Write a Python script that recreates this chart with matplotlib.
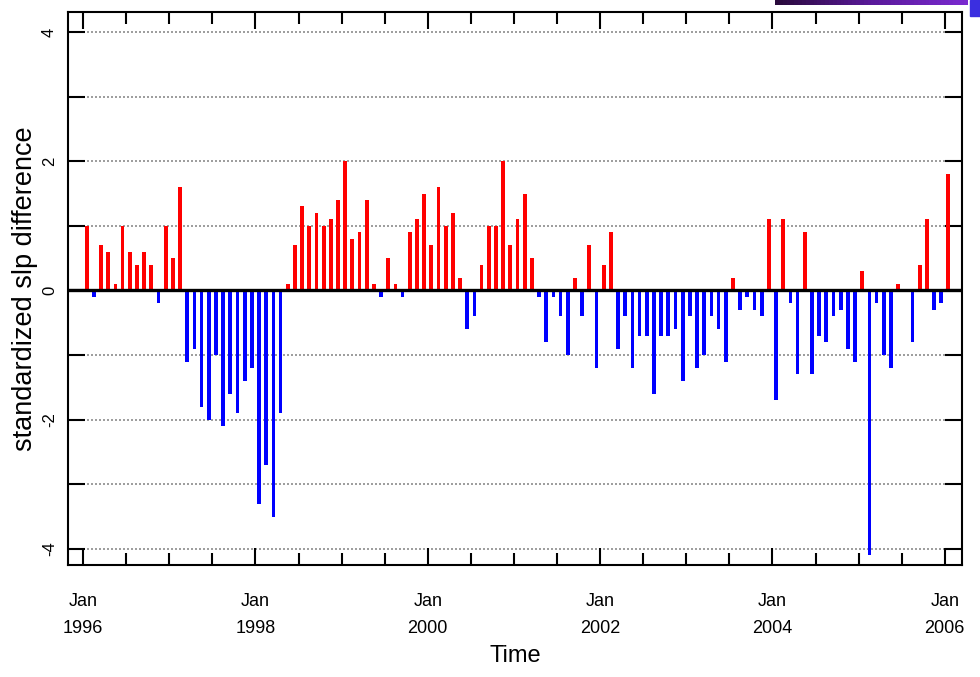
import matplotlib
matplotlib.use('Agg')
import matplotlib.pyplot as plt
import numpy as np
from matplotlib.colors import LinearSegmentedColormap
from matplotlib.patches import Rectangle

# monthly standardized slp difference, Jan 1996 .. Jan 2006
slp_diff = [
    1.0, -0.1, 0.7, 0.6, 0.1, 1.0, 0.6, 0.4, 0.6, 0.4, -0.2, 1.0,      # 1996
    0.5, 1.6, -1.1, -0.9, -1.8, -2.0, -1.0, -2.1, -1.6, -1.9, -1.4, -1.2,  # 1997
    -3.3, -2.7, -3.5, -1.9, 0.1, 0.7, 1.3, 1.0, 1.2, 1.0, 1.1, 1.4,    # 1998
    2.0, 0.8, 0.9, 1.4, 0.1, -0.1, 0.5, 0.1, -0.1, 0.9, 1.1, 1.5,      # 1999
    0.7, 1.6, 1.0, 1.2, 0.2, -0.6, -0.4, 0.4, 1.0, 1.0, 2.0, 0.7,      # 2000
    1.1, 1.5, 0.5, -0.1, -0.8, -0.1, -0.4, -1.0, 0.2, -0.4, 0.7, -1.2,  # 2001
    0.4, 0.9, -0.9, -0.4, -1.2, -0.7, -0.7, -1.6, -0.7, -0.7, -0.6, -1.4,  # 2002
    -0.4, -1.2, -1.0, -0.4, -0.6, -1.1, 0.2, -0.3, -0.1, -0.3, -0.4, 1.1,  # 2003
    -1.7, 1.1, -0.2, -1.3, 0.9, -1.3, -0.7, -0.8, -0.4, -0.3, -0.9, -1.1,  # 2004
    0.3, -4.1, -0.2, -1.0, -1.2, 0.1, 0.0, -0.8, 0.4, 1.1, -0.3, -0.2,  # 2005
    1.8,                                                               # Jan 2006
]
start_year = 1996
label_years = [1996, 1998, 2000, 2002, 2004, 2006]
y_ticks = [-4, -3, -2, -1, 0, 1, 2, 3, 4]

narrow = ['Liberation Sans Narrow', 'Liberation Sans', 'DejaVu Sans']

fig = plt.figure(figsize=(9.8, 6.77), dpi=100)
ax = fig.add_axes([68 / 980, 1 - 565 / 677, (962 - 68) / 980, (565 - 12) / 677])

vals = np.array(slp_diff)
x = np.arange(len(vals)) + 0.5
colors = np.where(vals >= 0, '#ff0000', '#0000ff')
ax.bar(x, vals, width=0.52, color=colors, zorder=3)
ax.axhline(0, color='black', lw=2.4, zorder=4)

# dotted grid between first and last label month
last = (label_years[-1] - start_year) * 12
for yv in y_ticks:
    ax.plot([0, last], [yv, yv], ls=(0, (1.2, 1.2)), color='#8c8c8c', lw=1.2, zorder=1)

ax.set_xlim(-2.1, 122.4)
ax.set_ylim(-4.25, 4.31)

ax.set_xticks([(y - start_year) * 12 for y in label_years])
ax.set_xticklabels([f'Jan\n{y}' for y in label_years], linespacing=1.75,
                   family=narrow, fontsize=13)
ax.set_xticks(np.arange(0, last + 1, 6), minor=True)
ax.set_yticks(y_ticks)
ax.set_yticklabels([str(v) if v % 2 == 0 else '' for v in y_ticks], rotation=90, va='center',
                   family=narrow, fontsize=12)

ax.tick_params(axis='both', which='major', direction='in', length=12, width=1.5, top=True, right=True)
ax.tick_params(axis='x', which='major', pad=20)
ax.tick_params(axis='y', which='major', pad=8)
ax.tick_params(axis='x', which='minor', direction='in', length=8.6, width=1.5, top=True)
for s in ax.spines.values():
    s.set_linewidth(1.5)

ax.set_ylabel('standardized slp difference', fontsize=19.5, family='Liberation Sans')
ax.yaxis.set_label_coords(-0.034, 0.5)
ax.set_xlabel('Time', fontsize=17, family=narrow)
ax.xaxis.set_label_coords(0.5, -0.145)

# cropped strip at top right of the original picture
strip = fig.add_axes([775 / 980, 1 - 5 / 677, 192 / 980, 5 / 677])
cmap = LinearSegmentedColormap.from_list('strip', ['#2a0a3c', '#5a1a9a', '#7a2ad0'])
strip.imshow(np.linspace(0, 1, 50)[None, :], cmap=cmap, aspect='auto')
strip.axis('off')
fig.add_artist(Rectangle((970 / 980, 1 - 16 / 677), 10 / 980, 16 / 677,
                         transform=fig.transFigure, color='#3b2fe0'))

fig.savefig('out.png', dpi=100)
